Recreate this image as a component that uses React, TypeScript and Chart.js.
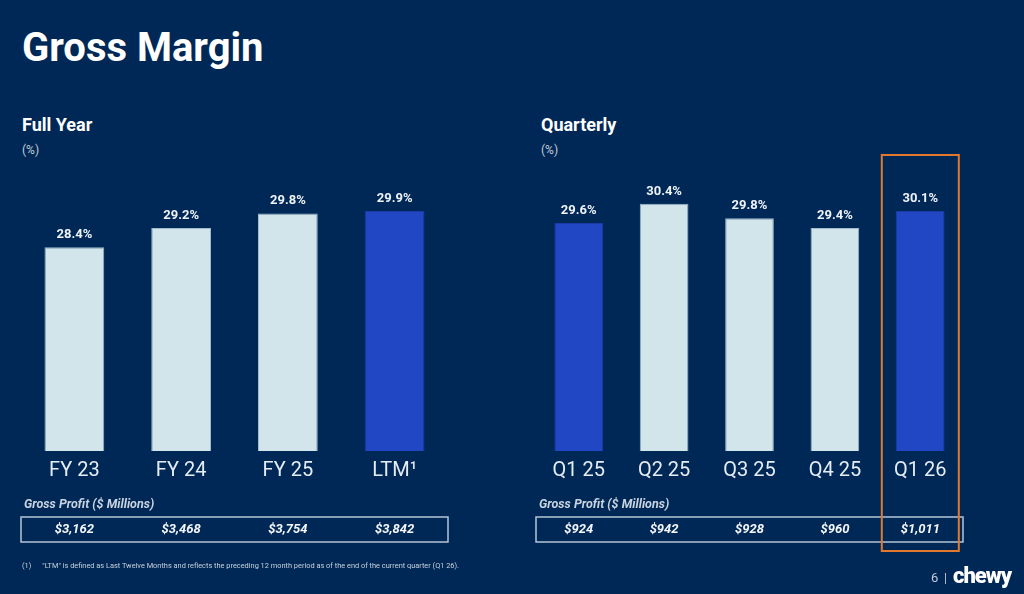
import React, { useEffect, useRef } from "react";
import { Chart, registerables } from "chart.js";

Chart.register(...registerables);

// Full-year gross margin (%) and gross profit ($M)
const fullYearLabels = ["FY 23", "FY 24", "FY 25", "LTM\u00B9"];
const fullYearMargin = [28.4, 29.2, 29.8, 29.9];
const fullYearProfit = ["$3,162", "$3,468", "$3,754", "$3,842"];
const fullYearHighlight = [3];

// Quarterly gross margin (%) and gross profit ($M)
const quarterLabels = ["Q1 25", "Q2 25", "Q3 25", "Q4 25", "Q1 26"];
const quarterMargin = [29.6, 30.4, 29.8, 29.4, 30.1];
const quarterProfit = ["$924", "$942", "$928", "$960", "$1,011"];
const quarterHighlight = [0, 4];
const quarterOutlined = 4;

const W = 1024;
const H = 594;
const BG = "#002856";
const LIGHT = "#d2e5ea";
const LIGHT_EDGE = "#9db9cb";
const BLUE = "#2147c5";
const BLUE_EDGE = "#1a3aa6";
const ORANGE = "#e2782d";
const FONT = "Roboto, 'Noto Sans', sans-serif";
const AXIS_H = 40;
const BASE_Y = 451;
const TOP_Y = 187;

type PanelCfg = {
  labels: string[];
  values: number[];
  profit: string[];
  highlight: number[];
  left: number;
  right: number;
  barPct: number;
  yMin: number;
  yMax: number;
  outlined?: number;
};

const overlayPlugin = {
  id: "panelOverlay",
  afterDraw(chart: any, _args: any, opts: any) {
    const ctx = chart.ctx as CanvasRenderingContext2D;
    const meta = chart.getDatasetMeta(0);
    const values: number[] = chart.data.datasets[0].data;
    const { left, right } = chart.chartArea;
    ctx.save();

    // value labels above the bars
    ctx.fillStyle = "#eef2f7";
    ctx.font = `bold 13px ${FONT}`;
    ctx.textAlign = "center";
    ctx.textBaseline = "alphabetic";
    meta.data.forEach((bar: any, i: number) => {
      ctx.fillText(`${values[i].toFixed(1)}%`, bar.x, bar.y - 9);
    });

    // gross profit caption and boxed row
    ctx.textAlign = "left";
    ctx.textBaseline = "middle";
    ctx.fillStyle = "#c9d3df";
    ctx.font = `italic bold 12.5px ${FONT}`;
    ctx.fillText("Gross Profit ($ Millions)", left + 3, 505);

    ctx.strokeStyle = "#b3c5d6";
    ctx.lineWidth = 1.5;
    ctx.strokeRect(left, 517, right - left, 25);

    ctx.fillStyle = "#f4f6fa";
    ctx.font = `italic bold 13px ${FONT}`;
    ctx.textAlign = "center";
    const profit: string[] = opts.profit || [];
    const xs = chart.scales.x;
    profit.forEach((p, i) => {
      ctx.fillText(p, xs.getPixelForValue(i), 530);
    });

    // highlight frame around one column
    if (typeof opts.outlined === "number") {
      const cx = xs.getPixelForValue(opts.outlined);
      ctx.strokeStyle = ORANGE;
      ctx.lineWidth = 2;
      ctx.strokeRect(cx - 38.5, 155, 77, 396);
    }
    ctx.restore();
  },
};

function buildChart(canvas: HTMLCanvasElement, cfg: PanelCfg) {
  return new Chart(canvas, {
    type: "bar",
    data: {
      labels: cfg.labels,
      datasets: [
        {
          data: cfg.values,
          backgroundColor: cfg.values.map((_, i) =>
            cfg.highlight.includes(i) ? BLUE : LIGHT
          ),
          borderColor: cfg.values.map((_, i) =>
            cfg.highlight.includes(i) ? BLUE_EDGE : LIGHT_EDGE
          ),
          borderWidth: 1,
          barPercentage: cfg.barPct,
          categoryPercentage: 1,
        },
      ],
    },
    options: {
      responsive: false,
      animation: false,
      events: [],
      layout: {
        padding: {
          left: cfg.left,
          right: W - cfg.right,
          top: TOP_Y,
          bottom: H - BASE_Y - AXIS_H,
        },
      },
      plugins: {
        legend: { display: false },
        tooltip: { enabled: false },
        panelOverlay: { profit: cfg.profit, outlined: cfg.outlined },
      } as any,
      scales: {
        x: {
          grid: { display: false, drawTicks: false },
          border: { display: false },
          ticks: {
            color: "#e6ecf3",
            font: { family: FONT, size: 20 },
            padding: 8,
            maxRotation: 0,
            autoSkip: false,
          },
          afterFit: (s: any) => {
            s.height = AXIS_H;
          },
        },
        y: { display: false, min: cfg.yMin, max: cfg.yMax },
      },
    },
    plugins: [overlayPlugin],
  });
}

const abs = (s: React.CSSProperties): React.CSSProperties => ({
  position: "absolute",
  margin: 0,
  whiteSpace: "nowrap",
  fontFamily: FONT,
  ...s,
});

export default function App() {
  const leftRef = useRef<HTMLCanvasElement>(null);
  const rightRef = useRef<HTMLCanvasElement>(null);

  useEffect(() => {
    const a = buildChart(leftRef.current!, {
      labels: fullYearLabels,
      values: fullYearMargin,
      profit: fullYearProfit,
      highlight: fullYearHighlight,
      left: 21,
      right: 448,
      barPct: 0.56,
      yMin: 20,
      yMax: 30.89,
    });
    const b = buildChart(rightRef.current!, {
      labels: quarterLabels,
      values: quarterMargin,
      profit: quarterProfit,
      highlight: quarterHighlight,
      left: 536,
      right: 963,
      barPct: 0.57,
      yMin: 20.2,
      yMax: 31.09,
      outlined: quarterOutlined,
    });
    return () => {
      a.destroy();
      b.destroy();
    };
  }, []);

  return (
    <div
      style={{
        position: "fixed",
        left: 0,
        top: 0,
        width: W,
        height: H,
        background: BG,
        overflow: "hidden",
        color: "#ffffff",
        fontFamily: FONT,
      }}
    >
      <div style={abs({ left: 22, top: 24, fontSize: 40, fontWeight: 700, lineHeight: "48px" })}>
        Gross Margin
      </div>

      <div style={abs({ left: 22, top: 114, fontSize: 18, fontWeight: 700, lineHeight: "22px" })}>
        Full Year
      </div>
      <div style={abs({ left: 22, top: 142, fontSize: 12, color: "#c3ccd8", lineHeight: "16px" })}>
        (%)
      </div>

      <div style={abs({ left: 541, top: 114, fontSize: 18, fontWeight: 700, lineHeight: "22px" })}>
        Quarterly
      </div>
      <div style={abs({ left: 541, top: 142, fontSize: 12, color: "#c3ccd8", lineHeight: "16px" })}>
        (%)
      </div>

      <canvas ref={leftRef} width={W} height={H} style={{ position: "absolute", left: 0, top: 0 }} />
      <canvas ref={rightRef} width={W} height={H} style={{ position: "absolute", left: 0, top: 0 }} />

      <div style={abs({ left: 22, top: 561, fontSize: 7.4, color: "#c8d1dc", lineHeight: "10px" })}>
        (1)<span style={{ display: "inline-block", width: 11 }} />
        &quot;LTM&quot; is defined as Last Twelve Months and reflects the preceding 12 month period as of the end of the current quarter (Q1 26).
      </div>

      <div style={abs({ left: 931, top: 570, fontSize: 13, color: "#c3ccd8", lineHeight: "16px" })}>
        6
      </div>
      <div style={abs({ left: 944, top: 570, fontSize: 12, color: "#c3ccd8", lineHeight: "16px" })}>
        |
      </div>
      <div
        style={abs({
          left: 953,
          top: 564,
          fontSize: 22,
          fontWeight: 900,
          letterSpacing: -1,
          lineHeight: "24px",
          color: "#ffffff",
        })}
      >
        chewy
      </div>
    </div>
  );
}
